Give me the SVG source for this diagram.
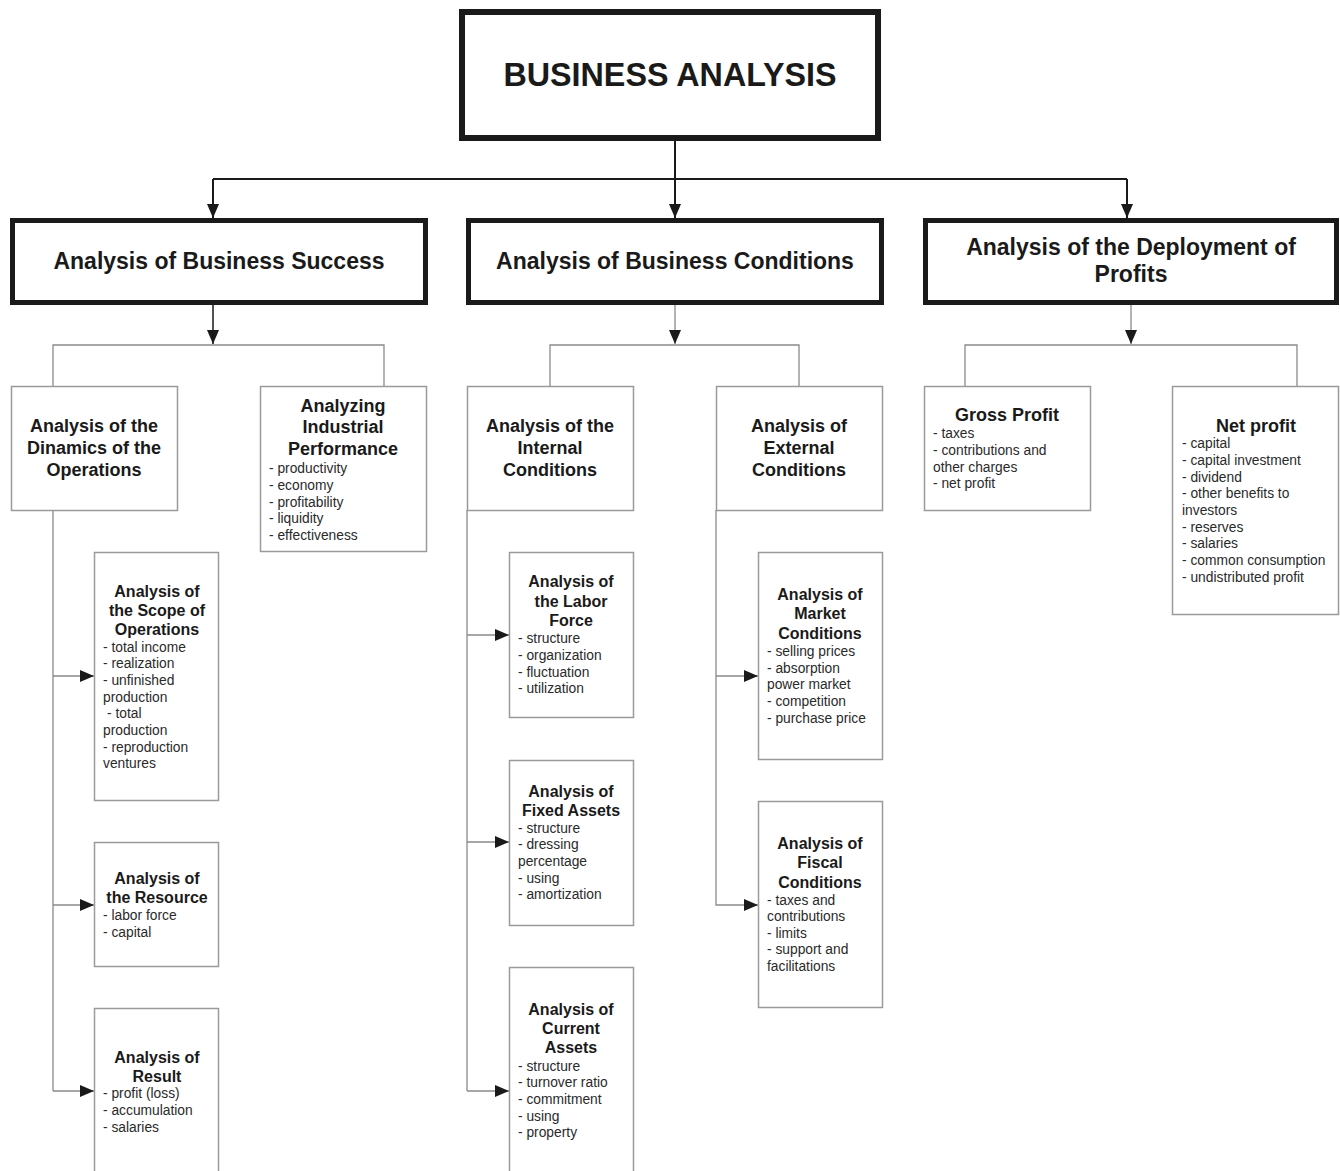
<svg xmlns="http://www.w3.org/2000/svg" width="1340" height="1171" viewBox="0 0 1340 1171">
<style>
text{font-family:"Liberation Sans",Arial,sans-serif;fill:#1a1a1a}
.t0{font-size:32.3px;font-weight:bold;text-anchor:middle}
.t1{font-size:23px;font-weight:bold;text-anchor:middle}
.t2{font-size:18px;font-weight:bold;text-anchor:middle}
.t3{font-size:16px;font-weight:bold;text-anchor:middle}
.it{font-size:13.8px;fill:#2a2a2a}
.b0{fill:#fff;stroke:#1a1a1a;stroke-width:6}
.b1{fill:#fff;stroke:#1a1a1a;stroke-width:5}
.b2{fill:#fff;stroke:#9a9a9a;stroke-width:1.5}
.cd{fill:none;stroke:#1a1a1a;stroke-width:2}
.cg{fill:none;stroke:#8a8a8a;stroke-width:1.3}
</style>
<defs>
<marker id="ah" markerWidth="14" markerHeight="12" refX="14" refY="6" orient="auto" markerUnits="userSpaceOnUse"><path d="M0,0 L14,6 L0,12 z" fill="#1a1a1a"/></marker>
</defs>
<rect width="1340" height="1171" fill="#fff"/>
<g id="connectors">
<path class="cd" d="M675,140 V218" marker-end="url(#ah)"/>
<path class="cd" d="M213,179 H1127"/>
<path class="cd" d="M213,179 V218" marker-end="url(#ah)"/>
<path class="cd" d="M1127,179 V218" marker-end="url(#ah)"/>
<path class="cd" style="stroke-width:1.5" d="M213,305 V344" marker-end="url(#ah)"/>
<path class="cg" d="M53,386 V345 H384 V386"/>
<path class="cg" d="M675,305 V344" marker-end="url(#ah)"/>
<path class="cg" d="M550,386 V345 H799 V386"/>
<path class="cg" d="M1131,305 V344" marker-end="url(#ah)"/>
<path class="cg" d="M965,386 V345 H1297 V386"/>
<path class="cg" d="M53,510 V1091"/>
<path class="cg" d="M53,676 H94" marker-end="url(#ah)"/>
<path class="cg" d="M53,905 H94" marker-end="url(#ah)"/>
<path class="cg" d="M53,1091 H94" marker-end="url(#ah)"/>
<path class="cg" d="M467,510 V1091"/>
<path class="cg" d="M467,635 H509" marker-end="url(#ah)"/>
<path class="cg" d="M467,842 H509" marker-end="url(#ah)"/>
<path class="cg" d="M467,1091 H509" marker-end="url(#ah)"/>
<path class="cg" d="M716,510 V905 H758" marker-end="url(#ah)"/>
<path class="cg" d="M716,676 H758" marker-end="url(#ah)"/>
</g>
<g id="business-analysis">
<rect class="b0" x="462" y="12" width="416" height="126"/>
<text class="t0" x="670" y="86">BUSINESS ANALYSIS</text>
</g>
<g id="business-success">
<rect class="b1" x="12.5" y="220.5" width="413" height="82"/>
<text class="t1" x="219" y="269">Analysis of Business Success</text>
</g>
<g id="business-conditions">
<rect class="b1" x="468.5" y="220.5" width="413" height="82"/>
<text class="t1" x="675" y="269">Analysis of Business Conditions</text>
</g>
<g id="deployment-profits">
<rect class="b1" x="925.5" y="220.5" width="411" height="82"/>
<text class="t1" x="1131" y="255">Analysis of the Deployment of</text>
<text class="t1" x="1131" y="282">Profits</text>
</g>
<g id="dynamics">
<rect class="b2" x="11.5" y="386.5" width="166" height="124"/>
<text class="t2" x="94" y="432">Analysis of the</text>
<text class="t2" x="94" y="454">Dinamics of the</text>
<text class="t2" x="94" y="476">Operations</text>
</g>
<g id="industrial-performance">
<rect class="b2" x="260.5" y="386.5" width="166" height="165"/>
<text class="t2" x="343" y="412">Analyzing</text>
<text class="t2" x="343" y="433">Industrial</text>
<text class="t2" x="343" y="455">Performance</text>
<text class="it" x="269" y="473">- productivity</text>
<text class="it" x="269" y="490">- economy</text>
<text class="it" x="269" y="507">- profitability</text>
<text class="it" x="269" y="523">- liquidity</text>
<text class="it" x="269" y="540">- effectiveness</text>
</g>
<g id="internal-conditions">
<rect class="b2" x="467.5" y="386.5" width="166" height="124"/>
<text class="t2" x="550" y="432">Analysis of the</text>
<text class="t2" x="550" y="454">Internal</text>
<text class="t2" x="550" y="476">Conditions</text>
</g>
<g id="external-conditions">
<rect class="b2" x="716.5" y="386.5" width="166" height="124"/>
<text class="t2" x="799" y="432">Analysis of</text>
<text class="t2" x="799" y="454">External</text>
<text class="t2" x="799" y="476">Conditions</text>
</g>
<g id="gross-profit">
<rect class="b2" x="924.5" y="386.5" width="166" height="124"/>
<text class="t2" x="1007" y="421">Gross Profit</text>
<text class="it" x="933" y="438">- taxes</text>
<text class="it" x="933" y="455">- contributions and</text>
<text class="it" x="933" y="472">other charges</text>
<text class="it" x="933" y="488">- net profit</text>
</g>
<g id="net-profit">
<rect class="b2" x="1172.5" y="386.5" width="166" height="228"/>
<text class="t2" x="1256" y="432">Net profit</text>
<text class="it" x="1182" y="448">- capital</text>
<text class="it" x="1182" y="465">- capital investment</text>
<text class="it" x="1182" y="482">- dividend</text>
<text class="it" x="1182" y="498">- other benefits to</text>
<text class="it" x="1182" y="515">investors</text>
<text class="it" x="1182" y="532">- reserves</text>
<text class="it" x="1182" y="548">- salaries</text>
<text class="it" x="1182" y="565">- common consumption</text>
<text class="it" x="1182" y="582">- undistributed profit</text>
</g>
<g id="scope-operations">
<rect class="b2" x="94.5" y="552.5" width="124" height="248"/>
<text class="t3" x="157" y="597">Analysis of</text>
<text class="t3" x="157" y="616">the Scope of</text>
<text class="t3" x="157" y="635">Operations</text>
<text class="it" x="103" y="652">- total income</text>
<text class="it" x="103" y="668">- realization</text>
<text class="it" x="103" y="685">- unfinished</text>
<text class="it" x="103" y="702">production</text>
<text class="it" x="107" y="718">- total</text>
<text class="it" x="103" y="735">production</text>
<text class="it" x="103" y="752">- reproduction</text>
<text class="it" x="103" y="768">ventures</text>
</g>
<g id="resource">
<rect class="b2" x="94.5" y="842.5" width="124" height="124"/>
<text class="t3" x="157" y="884">Analysis of</text>
<text class="t3" x="157" y="903">the Resource</text>
<text class="it" x="103" y="920">- labor force</text>
<text class="it" x="103" y="937">- capital</text>
</g>
<g id="result">
<rect class="b2" x="94.5" y="1008.5" width="124" height="175"/>
<text class="t3" x="157" y="1063">Analysis of</text>
<text class="t3" x="157" y="1082">Result</text>
<text class="it" x="103" y="1098">- profit (loss)</text>
<text class="it" x="103" y="1115">- accumulation</text>
<text class="it" x="103" y="1132">- salaries</text>
</g>
<g id="labor-force">
<rect class="b2" x="509.5" y="552.5" width="124" height="165"/>
<text class="t3" x="571" y="587">Analysis of</text>
<text class="t3" x="571" y="607">the Labor</text>
<text class="t3" x="571" y="626">Force</text>
<text class="it" x="518" y="643">- structure</text>
<text class="it" x="518" y="660">- organization</text>
<text class="it" x="518" y="677">- fluctuation</text>
<text class="it" x="518" y="693">- utilization</text>
</g>
<g id="fixed-assets">
<rect class="b2" x="509.5" y="760.5" width="124" height="165"/>
<text class="t3" x="571" y="797">Analysis of</text>
<text class="t3" x="571" y="816">Fixed Assets</text>
<text class="it" x="518" y="833">- structure</text>
<text class="it" x="518" y="849">- dressing</text>
<text class="it" x="518" y="866">percentage</text>
<text class="it" x="518" y="883">- using</text>
<text class="it" x="518" y="899">- amortization</text>
</g>
<g id="current-assets">
<rect class="b2" x="509.5" y="967.5" width="124" height="215"/>
<text class="t3" x="571" y="1015">Analysis of</text>
<text class="t3" x="571" y="1034">Current</text>
<text class="t3" x="571" y="1053">Assets</text>
<text class="it" x="518" y="1071">- structure</text>
<text class="it" x="518" y="1087">- turnover ratio</text>
<text class="it" x="518" y="1104">- commitment</text>
<text class="it" x="518" y="1121">- using</text>
<text class="it" x="518" y="1137">- property</text>
</g>
<g id="market-conditions">
<rect class="b2" x="758.5" y="552.5" width="124" height="207"/>
<text class="t3" x="820" y="600">Analysis of</text>
<text class="t3" x="820" y="619">Market</text>
<text class="t3" x="820" y="639">Conditions</text>
<text class="it" x="767" y="656">- selling prices</text>
<text class="it" x="767" y="673">- absorption</text>
<text class="it" x="767" y="689">power market</text>
<text class="it" x="767" y="706">- competition</text>
<text class="it" x="767" y="723">- purchase price</text>
</g>
<g id="fiscal-conditions">
<rect class="b2" x="758.5" y="801.5" width="124" height="206"/>
<text class="t3" x="820" y="849">Analysis of</text>
<text class="t3" x="820" y="868">Fiscal</text>
<text class="t3" x="820" y="888">Conditions</text>
<text class="it" x="767" y="905">- taxes and</text>
<text class="it" x="767" y="921">contributions</text>
<text class="it" x="767" y="938">- limits</text>
<text class="it" x="767" y="954">- support and</text>
<text class="it" x="767" y="971">facilitations</text>
</g>
</svg>
